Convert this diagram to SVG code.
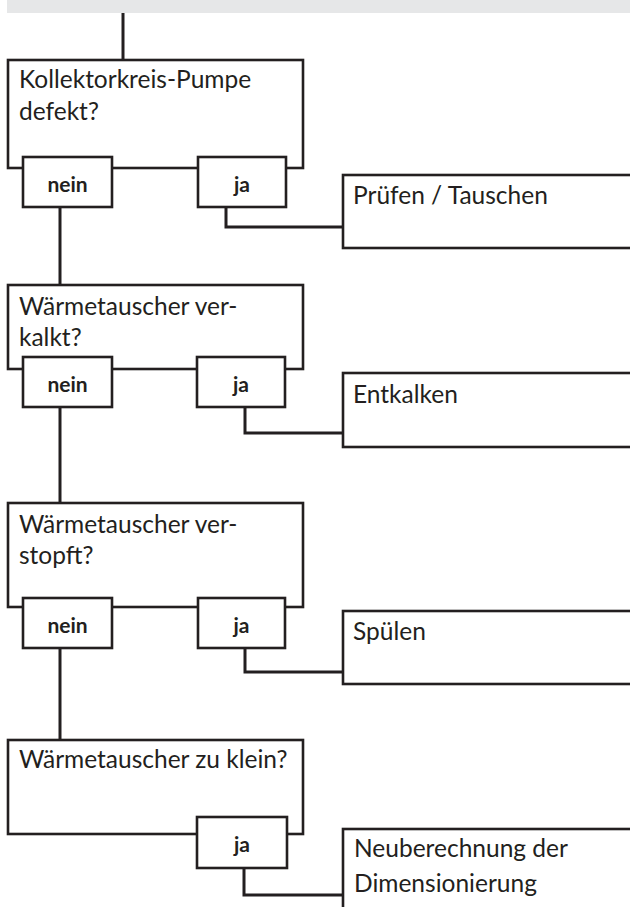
<svg xmlns="http://www.w3.org/2000/svg" width="630" height="907" viewBox="0 0 630 907">
<style>
.box{fill:#fff;stroke:#231f20;stroke-width:2.6}
.tab{fill:#fff;stroke:#231f20;stroke-width:2.6}
.conn{fill:none;stroke:#231f20;stroke-width:3}
.q{font-family:Lato,"Liberation Sans",sans-serif;font-size:24.5px;fill:#231f20}
.lbl{font-family:Lato,"Liberation Sans",sans-serif;font-size:21px;font-weight:bold;fill:#231f20;text-anchor:middle}
</style>
<rect x="7" y="0" width="623" height="13" fill="#e6e7e8"/>
<g id="connectors">
<path class="conn" d="M123 13V60"/>
<path class="conn" d="M60 207V285"/>
<path class="conn" d="M226 207V227H343"/>
<path class="conn" d="M60 407V503"/>
<path class="conn" d="M245 407V433H343"/>
<path class="conn" d="M60 648V740"/>
<path class="conn" d="M245 648V672H343"/>
<path class="conn" d="M244 868V895H343"/>
</g>
<g id="q1">
<rect class="box" x="8" y="60" width="295" height="108"/>
<text class="q" x="19" y="88">Kollektorkreis-Pumpe</text>
<text class="q" x="19" y="120">defekt?</text>
<rect class="tab" x="23" y="157" width="89" height="50"/>
<text class="lbl" x="67.5" y="192">nein</text>
<rect class="tab" x="198" y="157" width="88" height="50"/>
<text class="lbl" x="242" y="192">ja</text>
</g>
<g id="a1">
<rect class="box" x="343" y="175" width="300" height="73"/>
<text class="q" x="353" y="204">Prüfen / Tauschen</text>
</g>
<g id="q2">
<rect class="box" x="8" y="285" width="295" height="84"/>
<text class="q" x="19" y="315">Wärmetauscher ver-</text>
<text class="q" x="19" y="346">kalkt?</text>
<rect class="tab" x="23" y="357" width="89" height="50"/>
<text class="lbl" x="67.5" y="392">nein</text>
<rect class="tab" x="197" y="357" width="88" height="50"/>
<text class="lbl" x="241" y="392">ja</text>
</g>
<g id="a2">
<rect class="box" x="343" y="373" width="300" height="74"/>
<text class="q" x="353" y="403">Entkalken</text>
</g>
<g id="q3">
<rect class="box" x="8" y="503" width="295" height="104"/>
<text class="q" x="19" y="533">Wärmetauscher ver-</text>
<text class="q" x="19" y="564">stopft?</text>
<rect class="tab" x="23" y="598" width="89" height="50"/>
<text class="lbl" x="67.5" y="633">nein</text>
<rect class="tab" x="198" y="598" width="87" height="50"/>
<text class="lbl" x="241.5" y="633">ja</text>
</g>
<g id="a3">
<rect class="box" x="343" y="611" width="300" height="73"/>
<text class="q" x="353" y="640">Spülen</text>
</g>
<g id="q4">
<rect class="box" x="8" y="740" width="295" height="94"/>
<text class="q" x="19" y="768">Wärmetauscher zu klein?</text>
<rect class="tab" x="197" y="817" width="90" height="51"/>
<text class="lbl" x="242" y="852">ja</text>
</g>
<g id="a4">
<rect class="box" x="343" y="829" width="300" height="100"/>
<text class="q" x="354" y="857">Neuberechnung der</text>
<text class="q" x="354" y="892">Dimensionierung</text>
</g>
</svg>
